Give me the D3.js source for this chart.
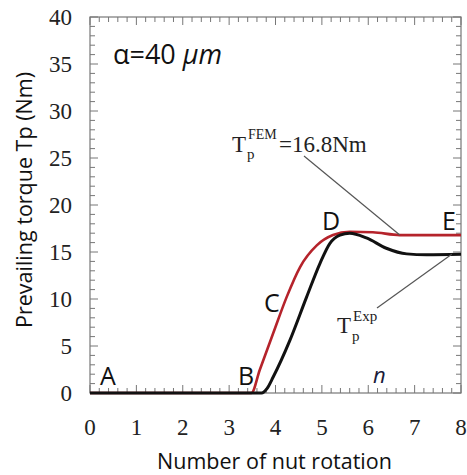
<!DOCTYPE html>
<html lang="en">
<head>
  <meta charset="UTF-8">
  <title>Prevailing torque</title>
  <script src="https://d3js.org/d3.v7.min.js"></script>
  <style>
    body { margin: 0; background: #fff; }
    .tick-label { font-family: "Liberation Serif", serif; font-size: 23px; fill: #222; }
    .title { font-family: "Open Sans", sans-serif; font-size: 21.5px; fill: #111; }
    .pt { font-family: "Open Sans", sans-serif; font-size: 25px; fill: #111; }
    .note { font-family: "Liberation Serif", serif; fill: #222; }
  </style>
</head>
<body>
  <svg width="467" height="475"></svg>
  <script>
    // experimental curve (black)
    const nExp = [0, 3.7, 3.82, 3.95, 4.31, 4.67, 4.96, 5.17, 5.39, 5.6, 5.96, 6.39, 6.83, 7.26, 8];
    const tExp = [0, 0, 0.5, 1.7, 5.6, 10.2, 13.8, 15.9, 16.8, 17.0, 16.5, 15.4, 14.8, 14.7, 14.75];
    // FEM curve (red)
    const nFem = [0, 3.48, 3.66, 3.95, 4.24, 4.53, 4.89, 5.24, 5.6, 6.1, 6.68, 8];
    const tFem = [0, 0, 2.45, 6.35, 10.2, 13.4, 15.7, 16.8, 17.15, 17.1, 16.8, 16.8];
    const xTicks = [0, 1, 2, 3, 4, 5, 6, 7, 8];
    const yTicks = [0, 5, 10, 15, 20, 25, 30, 35, 40];

    const svg = d3.select("svg");
    const mLeft = 90, mRight = 461, mTop = 17, mBottom = 393;

    const x = d3.scaleLinear().domain([0, 8]).range([mLeft, mRight]);
    const y = d3.scaleLinear().domain([0, 40]).range([mBottom, mTop]);

    // frame
    svg.append("rect")
        .attr("x", mLeft).attr("y", mTop)
        .attr("width", mRight - mLeft).attr("height", mBottom - mTop)
        .attr("fill", "none").attr("stroke", "#777").attr("stroke-width", 1.2);

    const tickCol = "#777";
    // x ticks (minor every 0.2, major every 1), bottom and top, inward
    const g = svg.append("g").attr("stroke", tickCol).attr("stroke-width", 1);
    d3.range(0, 8.001, 0.2).forEach(v => {
      const major = Math.abs(v - Math.round(v)) < 1e-6;
      const len = major ? 8 : 5;
      g.append("line").attr("x1", x(v)).attr("x2", x(v)).attr("y1", mBottom).attr("y2", mBottom - len);
      g.append("line").attr("x1", x(v)).attr("x2", x(v)).attr("y1", mTop).attr("y2", mTop + len);
    });
    // y ticks (minor every 1, major every 5), left and right
    d3.range(0, 41, 1).forEach(v => {
      const len = v % 5 === 0 ? 8 : 5;
      g.append("line").attr("y1", y(v)).attr("y2", y(v)).attr("x1", mLeft).attr("x2", mLeft + len);
      g.append("line").attr("y1", y(v)).attr("y2", y(v)).attr("x1", mRight).attr("x2", mRight - len);
    });

    // tick labels
    svg.append("g").selectAll("text").data(xTicks).join("text")
        .attr("class", "tick-label")
        .attr("x", d => x(d)).attr("y", 435)
        .attr("text-anchor", "middle")
        .text(d => d);
    svg.append("g").selectAll("text").data(yTicks).join("text")
        .attr("class", "tick-label")
        .attr("x", 72).attr("y", d => y(d) + 8)
        .attr("text-anchor", "end")
        .text(d => d);

    // axis titles
    svg.append("text").attr("class", "title")
        .attr("x", (mLeft + mRight) / 2 - 1).attr("y", 469)
        .attr("text-anchor", "middle")
        .text("Number of nut rotation");
    svg.append("text").attr("class", "title")
        .attr("transform", "translate(32," + 200 + ") rotate(-90)")
        .attr("text-anchor", "middle")
        .text("Prevailing torque Tp (Nm)");

    // curves
    const line = d3.line().x(d => x(d[0])).y(d => y(d[1])).curve(d3.curveMonotoneX);
    svg.append("path")
        .datum(nFem.map((n, i) => [n, tFem[i]]))
        .attr("d", line)
        .attr("fill", "none").attr("stroke", "#b5232b").attr("stroke-width", 2.6);
    svg.append("path")
        .datum(nExp.map((n, i) => [n, tExp[i]]))
        .attr("d", line)
        .attr("fill", "none").attr("stroke", "#111").attr("stroke-width", 3);

    // leader lines
    svg.append("line")
        .attr("x1", 304).attr("y1", 156).attr("x2", x(6.68)).attr("y2", y(16.8))
        .attr("stroke", "#555").attr("stroke-width", 1.2);
    svg.append("line")
        .attr("x1", 377).attr("y1", 308).attr("x2", x(7.8)).attr("y2", y(14.75))
        .attr("stroke", "#555").attr("stroke-width", 1.2);

    // point labels
    const pts = [["A", 100, 385], ["B", 238, 385], ["C", 264, 312], ["D", 322, 230], ["E", 442, 230]];
    svg.append("g").selectAll("text").data(pts).join("text")
        .attr("class", "pt")
        .attr("x", d => d[1]).attr("y", d => d[2])
        .text(d => d[0]);

    svg.append("text")
        .attr("x", 373).attr("y", 383)
        .attr("font-family", "Open Sans, sans-serif").attr("font-size", 22)
        .attr("font-style", "italic").attr("fill", "#1b1b3a")
        .text("n");

    // alpha label
    const al = svg.append("text")
        .attr("x", 113).attr("y", 64)
        .attr("font-family", "Open Sans, sans-serif").attr("font-size", 27).attr("fill", "#111");
    al.append("tspan").text("\u03b1=40 ");
    al.append("tspan").attr("font-style", "italic").text("\u03bcm");

    // FEM annotation: T, subscript p, superscript FEM, value
    svg.append("text").attr("class", "note").attr("x", 232).attr("y", 152).attr("font-size", 23).text("T");
    svg.append("text").attr("class", "note").attr("x", 247).attr("y", 159).attr("font-size", 15).text("p");
    svg.append("text").attr("class", "note").attr("x", 248).attr("y", 139).attr("font-size", 14).text("FEM");
    svg.append("text").attr("class", "note").attr("x", 279).attr("y", 152).attr("font-size", 23).text("=16.8Nm");

    // Exp annotation
    svg.append("text").attr("class", "note").attr("x", 337).attr("y", 333).attr("font-size", 23).text("T");
    svg.append("text").attr("class", "note").attr("x", 352).attr("y", 341).attr("font-size", 15).text("p");
    svg.append("text").attr("class", "note").attr("x", 353).attr("y", 321).attr("font-size", 15).text("Exp");
  </script>
</body>
</html>
